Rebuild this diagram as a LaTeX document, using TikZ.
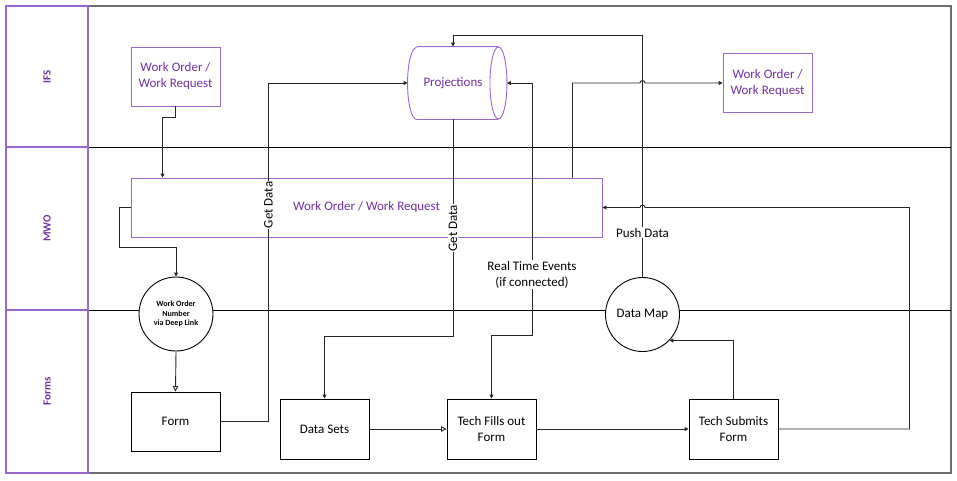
\documentclass[tikz,border=0pt]{standalone}
\usepackage{fontspec}
\setmainfont{Carlito}
\usetikzlibrary{arrows.meta}
\definecolor{lanepurple}{HTML}{7030A0}
\definecolor{boxpurple}{HTML}{9966CC}
\definecolor{framegray}{HTML}{6E6E6E}
\definecolor{linkgray}{HTML}{262626}

\begin{document}
\begin{tikzpicture}[%
            x=1pt, y=1pt,
            every node/.style={font=\fontsize{13}{16}\selectfont},
            lanetext/.style={rotate=90, text=lanepurple,
                font=\fontsize{11}{13}\selectfont\bfseries},
            ifsbox/.style={draw=boxpurple, line width=0.9pt, text=lanepurple,
                align=center, minimum width=89pt, minimum height=59pt, inner sep=0pt},
            formbox/.style={draw=black, line width=0.9pt, align=center,
                minimum width=89pt, minimum height=60pt, inner sep=0pt},
            stepcircle/.style={shape=circle, draw=black, line width=0.9pt, fill=white,
                minimum size=74pt, inner sep=0pt, align=center},
            link/.style={draw=linkgray, line width=0.9pt, -{Triangle[length=4pt, width=4pt]}},
            bothlink/.style={link, {Triangle[length=4pt, width=4pt]}-{Triangle[length=4pt, width=4pt]}},
            openlink/.style={link, -{Triangle[open, length=5.5pt, width=5.5pt]}},
            linklabel/.style={fill=white, inner sep=1pt, text=black}
    ]
    \useasboundingbox (0,0) rectangle (957,-480);

    % swim lanes
    \draw [framegray, line width=1.4pt] (88,-6) -- (951,-6) -- (951,-473) -- (88,-473);
    \draw [black, line width=0.9pt] (88,-147) -- (951,-147) (88,-310) -- (951,-310);
    \draw [boxpurple, line width=1.1pt] (88,-6) -- (6,-6) -- (6,-473) -- (88,-473) -- cycle
        (6,-147) -- (88,-147) (6,-310) -- (88,-310);
    \foreach \lane/\y in {IFS/76.5, MWO/228.5, Forms/391}
        \node [lanetext] (lane\lane) at (47,-\y) {\lane};

    % steps
    \node [ifsbox] (wo1) at (175.5,-76.5) {Work Order /\\Work Request};
    \node [ifsbox] (wo2) at (767.5,-83) {Work Order /\\Work Request};
    \node [ifsbox, draw=none, minimum width=90pt, minimum height=72pt] (proj) at (453,-83) {Projections};
    \node [ifsbox, minimum width=471pt] (wobar) at (366.5,-207.5) {Work Order / Work Request};
    \node [stepcircle, font=\fontsize{8}{9.5}\selectfont\bfseries] (deep) at (176,-314)
        {Work Order\\Number\\via Deep Link};
    \node [stepcircle] (dmap) at (642.5,-314.5) {Data Map};
    \node [formbox, minimum height=59pt] (form) at (175.5,-421.5) {Form};
    \node [formbox] (dsets) at (324.5,-429) {Data Sets};
    \node [formbox] (fills) at (491.5,-429) {Tech Fills out\\Form};
    \node [formbox] (submits) at (733.5,-429) {Tech Submits\\Form};

    % projections store
    \draw [boxpurple, line width=0.9pt] ([xshift=9pt]proj.north west) -- (proj.north east)
        (proj.south east) -- ([xshift=9pt]proj.south west)
        arc [start angle=270, end angle=90, x radius=9pt, y radius=36pt];
    \draw [boxpurple, line width=0.9pt] (proj.east) ellipse [x radius=8.5pt, y radius=36pt];
    \coordinate (projtip) at ([xshift=8.5pt]proj.east);

    % flows
    \draw [link] (wo1.south) -- ++(0,-11) -| ([xshift=32pt]wobar.north west);
    \draw [link] (wobar.west) -- ++(-11,0) |- ([yshift=29pt]deep.north) -- (deep.north);
    \draw [openlink] (deep.south) -- (form.north);
    \draw [link] (form.east) -- ++(48,0)
        |- node [linklabel, rotate=90, pos=0.32] {Get Data} (proj.west);
    \draw [link] (proj.south)
        -- node [linklabel, rotate=90, pos=0.5] {Get Data} ([yshift=62pt]proj.south |- dsets.north)
        -| (dsets.north);
    \draw [bothlink] (projtip) -- ++(25,0)
        -- node [linklabel, align=center, pos=0.76] {Real Time Events\\(if connected)} ++(0,-252)
        -| (fills.north);
    \draw [link] (dmap.north)
        -- node [linklabel, pos=0.184] {Push Data} ([yshift=11pt]dmap.north |- proj.north)
        -| (proj.north);
    \draw [link] ([xshift=-30pt]wobar.north east) |- ([xshift=-2.5pt]dmap.north |- wo2.west)
        arc [start angle=180, end angle=0, radius=2.5pt] -- (wo2.west);
    \draw [link] (submits.east) -- ++(131,0) |- ([xshift=2.5pt]dmap.north |- wobar.east)
        arc [start angle=0, end angle=180, radius=2.5pt] -- (wobar.east);
    \draw [openlink] (dsets.east) -- (fills.west);
    \draw [link] (fills.east) -- (submits.west);
    \draw [link] (submits.north) |- (dmap.-44);
\end{tikzpicture}
\end{document}
